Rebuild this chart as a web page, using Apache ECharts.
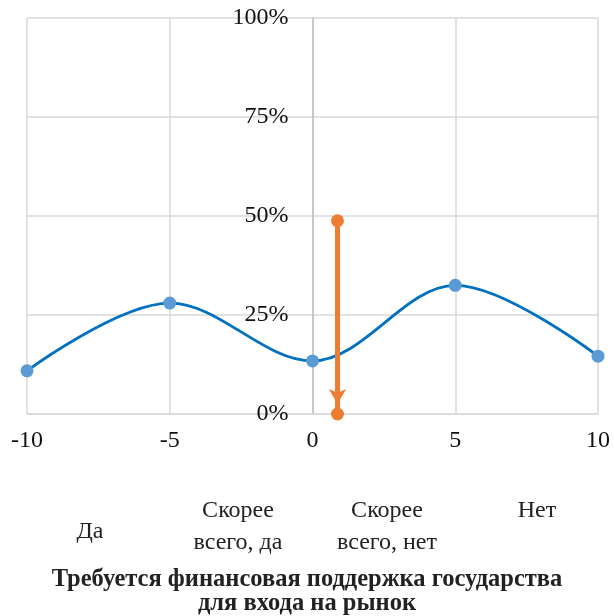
<!DOCTYPE html>
<html>
<head>
<meta charset="utf-8">
<script src="https://cdn.jsdelivr.net/npm/echarts@6/dist/echarts.min.js"></script>
<style>
  html, body { margin: 0; padding: 0; background: #fff; }
  #chart { width: 614px; height: 616px; }
</style>
</head>
<body>
<div id="chart"></div>
<script>
// кривая ответов
var xVals = [-10, -5, 0, 5, 10];
var shares = [0.109, 0.280, 0.134, 0.325, 0.146];
// оранжевая стрелка (среднее)
var arrowX = 0.875;
var arrowTop = 0.488;
var arrowBottom = 0;
// подписи
var answerLabels = ["Да", "Скорее\nвсего, да", "Скорее\nвсего, нет", "Нет"];
var axisTitle = "Требуется финансовая поддержка государства\nдля входа на рынок";

var FONT = "'Liberation Serif', 'DejaVu Serif', serif";

var curve = xVals.map(function (x, i) { return [x, shares[i]]; });

var W = 614, H = 616;
var gLeft = 27, gRight = 16, gTop = 18, gBottom = 202;
var plotW = W - gLeft - gRight;
// ось Y проходит через x = 0
var yAxisShift = (0 - (-10)) / 20 * plotW;

// положение подписей ответов
var labelPos = [
  { x: 90, y: 532 },
  { x: 238, y: 527 },
  { x: 387, y: 527 },
  { x: 537, y: 511 }
];

var graphics = answerLabels.map(function (t, i) {
  return {
    type: "text",
    x: labelPos[i].x,
    y: labelPos[i].y,
    style: {
      text: t,
      align: "center",
      verticalAlign: "middle",
      font: "24px " + FONT,
      fill: "#222",
      lineHeight: 32
    }
  };
});

graphics.push({
  type: "text",
  x: W / 2,
  y: 592,
  style: {
    text: axisTitle,
    align: "center",
    verticalAlign: "middle",
    font: "bold 24.5px " + FONT,
    fill: "#222",
    lineHeight: 24
  }
});

var option = {
  backgroundColor: "#fff",
  animation: false,
  grid: {
    left: gLeft, right: gRight, top: gTop, bottom: gBottom,
    containLabel: false,
    outerBoundsMode: "none"
  },
  xAxis: {
    type: "value",
    min: -10,
    max: 10,
    interval: 5,
    axisLine: { show: true, onZero: false, lineStyle: { color: "#d9d9d9", width: 1.5 } },
    axisTick: { show: false },
    splitLine: { show: true, lineStyle: { color: "#d9d9d9", width: 1.5 } },
    axisLabel: {
      fontFamily: FONT,
      fontSize: 24,
      color: "#111",
      margin: 15
    }
  },
  yAxis: {
    type: "value",
    min: 0,
    max: 1,
    interval: 0.25,
    position: "left",
    offset: -yAxisShift,
    axisLine: { show: true, onZero: false, lineStyle: { color: "#bfbfbf", width: 1.5 } },
    axisTick: { show: false },
    splitLine: { show: true, lineStyle: { color: "#d9d9d9", width: 1.5 } },
    axisLabel: {
      fontFamily: FONT,
      fontSize: 24,
      color: "#111",
      margin: 24,
      padding: [5, 0, 0, 0],
      formatter: function (v) { return Math.round(v * 100) + "%"; }
    }
  },
  series: [
    {
      type: "line",
      data: curve,
      smooth: 0.35,
      symbol: "circle",
      symbolSize: 13,
      lineStyle: { color: "#0070c0", width: 2.8 },
      itemStyle: { color: "#5b9bd5" },
      z: 3
    },
    {
      type: "line",
      data: [[arrowX, arrowTop], [arrowX, arrowBottom]],
      symbol: "circle",
      symbolSize: 13,
      lineStyle: { color: "#ed7d31", width: 5 },
      itemStyle: { color: "#ed7d31" },
      z: 4,
      markLine: {
        silent: true,
        symbol: ["none", "arrow"],
        symbolSize: [13, 15],
        label: { show: false },
        lineStyle: { color: "#ed7d31", width: 5, type: "solid" },
        data: [[{ coord: [arrowX, arrowTop] }, { coord: [arrowX, 0.025] }]]
      }
    }
  ],
  graphic: graphics
};

var chart = echarts.init(document.getElementById("chart"));
chart.setOption(option);
</script>
</body>
</html>
